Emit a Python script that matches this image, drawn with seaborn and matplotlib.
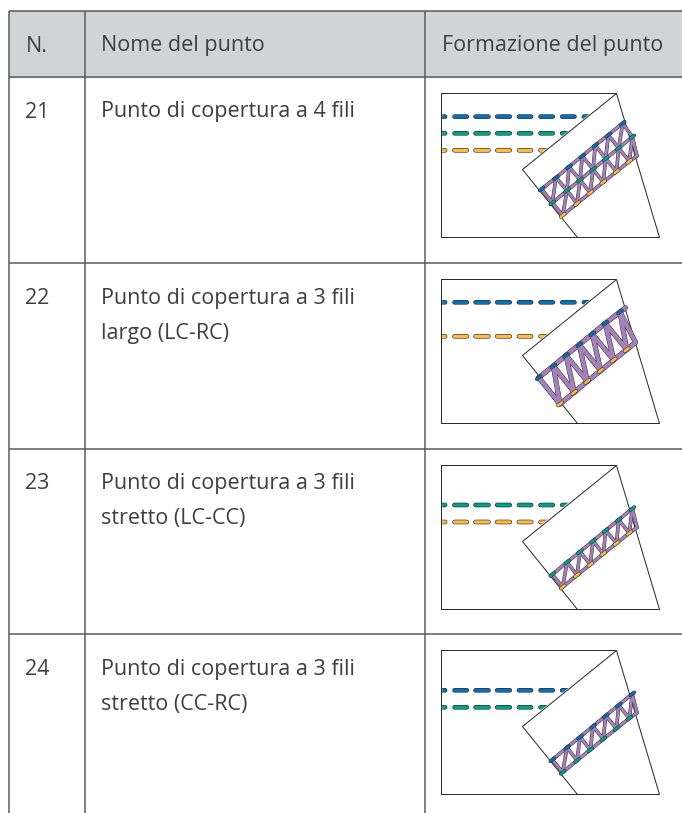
import matplotlib
matplotlib.use("Agg")
import matplotlib.pyplot as plt
import pandas as pd
import seaborn as sns

# tabella
col_x = [9, 84.5, 425]
row_y = [11, 77, 263, 448.5, 634]
headers = ["N.", "Nome del punto", "Formazione del punto"]
numbers = ["21", "22", "23", "24"]
names = [
    ["Punto di copertura a 4 fili"],
    ["Punto di copertura a 3 fili", "largo (LC-RC)"],
    ["Punto di copertura a 3 fili", "stretto (LC-CC)"],
    ["Punto di copertura a 3 fili", "stretto (CC-RC)"],
]

# colori
GRID = "#58595b"
HEAD = "#d1d3d4"
TEXT = "#3f3f41"
EDGE = "#2b2b2d"
PURPLE = "#a680b8"
BLUE = "#0a6fb4"
TEAL = "#00a08c"
YELLOW = "#fdb845"

# schizzo: posizioni in pixel relative all'angolo del foglio
panel_x = 441
panel_y = [93.3, 279.3, 465, 650.3]
sheet = [(0, 0), (175, 0), (218, 144), (0, 144), (0, 0)]
flap = [(175, 0), (81.3, 76), (135.7, 144), (218, 144)]

dash_start = [-1, 13.5, 34.5, 56.2, 77.9, 99.5, 121.2, 142.9]
dash_end = [4.1, 25.8, 47.5, 68.8, 90.1, 111.8, 133.5, 154.8]

top1_x = [100.7, 115, 128, 141.3, 154.3, 167.3, 181.7]
top1_y = [95.7, 84.4, 73.4, 62.7, 52, 41.7, 30]
mid_x = [111.3, 126, 139, 152, 164.7, 177.7, 191.3]
mid_y = [109.5, 97.2, 86.7, 76, 65.4, 54.8, 43.6]
low_x = [121.7, 136, 149.3, 162.3, 175.5, 188.3]
low_y = [122, 110.2, 99.5, 88.8, 78.3, 68]
top2_x = [97.7, 112.3, 125, 138.3, 151.3, 164.3, 179]
top2_y = [98.3, 86.7, 76, 65.3, 54.7, 44, 32.7]
low2_x = [119, 133.3, 146.3, 159.7, 172.7, 185.7]
low2_y = [124.7, 113, 102, 91.3, 80.7, 70.3]

# riga per riga: (y, colore) dei fili dritti e (x, y, colore) dei fili sul bordo
straight = [
    [(23.3, BLUE), (40, TEAL), (57, YELLOW)],
    [(23, BLUE), (57, YELLOW)],
    [(40, TEAL), (57, YELLOW)],
    [(40, BLUE), (57, TEAL)],
]
threads = [
    [(top1_x, top1_y, BLUE), (mid_x, mid_y, TEAL), (low_x, low_y, YELLOW)],
    [(top2_x, top2_y, BLUE), (low2_x, low2_y, YELLOW)],
    [(mid_x, mid_y, TEAL), (low_x, low_y, YELLOW)],
    [(mid_x, mid_y, BLUE), (low_x, low_y, TEAL)],
]
bar_ends = [(196, 62.5), (194.5, 63), (196, 62.5), (196, 62.5)]
top_ext = [None, (184.5, 28.5), None, None]
purple_w = [2.7, 4.2, 2.7, 2.7]


def draw(ax, segs, color, width_px, z, cap="round", snap=False):
    rows = []
    for k, seg in enumerate(segs):
        for x, y in seg:
            rows.append({"x": x, "y": y, "seg": k})
    sns.lineplot(data=pd.DataFrame(rows), x="x", y="y", units="seg", estimator=None,
                 sort=False, color=color, lw=width_px * 0.72, zorder=z, legend=False,
                 errorbar=None, solid_capstyle=cap, solid_joinstyle="round", snap=snap, ax=ax)


def draw_panel(ax, n):
    ox, oy = panel_x, panel_y[n]
    shift = lambda pts: [(ox + x, oy + y) for x, y in pts]

    # fili dritti tratteggiati
    for y, color in straight[n]:
        segs = [shift([(a, y), (b, y)]) for a, b in zip(dash_start, dash_end)]
        draw(ax, segs, EDGE, 4.6, 3)
        draw(ax, segs, color, 3.4, 4)
    ax.fill([ox - 5, ox, ox, ox - 5], [oy, oy, oy + 144, oy + 144], color="white", zorder=4.5)

    # foglio e risvolto
    fx, fy = zip(*shift(flap))
    ax.fill(fx, fy, color="white", zorder=5)
    draw(ax, [shift(sheet), shift(flap[:3])], EDGE, 1.0, 6, cap="butt", snap=True)

    # fili sul bordo
    chain = threads[n]
    w = purple_w[n]
    zig, bars = [], []
    for i, (x, y, _) in enumerate(chain):
        pts = list(zip(x, y))
        if i == len(chain) - 1:
            pts.append(bar_ends[n])
        elif n == 1:
            pts.append(top_ext[n])
        bars.append(shift(pts))
    for (x1, y1, _), (x2, y2, _) in zip(chain[:-1], chain[1:]):
        path = []
        for k in range(len(x1)):
            path.append((x1[k], y1[k]))
            if k < len(x2):
                path.append((x2[k], y2[k]))
            else:
                path.append(bar_ends[n])
        zig.append(shift(path))
    draw(ax, zig + bars, EDGE, w + 0.9, 7)
    draw(ax, zig + bars, PURPLE, w, 8)

    # punti colorati
    for x, y, color in chain:
        segs = []
        for a, b in zip(x, y):
            segs.append(shift([(a - 1.9, b + 1.5), (a + 1.9, b - 1.5)]))
        draw(ax, segs, EDGE, 3.7, 9)
        draw(ax, segs, color, 2.7, 10)


sns.set_theme(style="white")
plt.rcParams["font.family"] = ["Open Sans", "DejaVu Sans"]

fig, ax = plt.subplots(figsize=(6.82, 8.13), dpi=100)
fig.subplots_adjust(left=0, right=1, top=1, bottom=0)

# griglia
ax.fill([col_x[0], 682, 682, col_x[0]], [row_y[0], row_y[0], row_y[1], row_y[1]], color=HEAD, zorder=0)
h_lines = [[(col_x[0], y), (682, y)] for y in row_y]
v_lines = [[(x, row_y[0]), (x, 813)] for x in col_x]
draw(ax, h_lines + v_lines, GRID, 1.5, 1, cap="butt", snap=True)

# testi
FS = 15.5
for x, label in zip(col_x, headers):
    ax.text(x + 16.5, 51.5, label, fontsize=FS, color=TEXT, va="baseline", ha="left")
for i, top in enumerate(row_y[1:]):
    base = top + 40.5
    ax.text(col_x[0] + 16.5, base, numbers[i], fontsize=FS, color=TEXT, va="baseline", ha="left")
    for j, line in enumerate(names[i]):
        ax.text(col_x[1] + 16.5, base + j * 35, line, fontsize=FS, color=TEXT, va="baseline", ha="left")

for n in range(4):
    draw_panel(ax, n)

ax.set_xlim(0, 682)
ax.set_ylim(813, 0)
ax.set_xlabel("")
ax.set_ylabel("")
ax.axis("off")
fig.savefig("out.png", dpi=100)
